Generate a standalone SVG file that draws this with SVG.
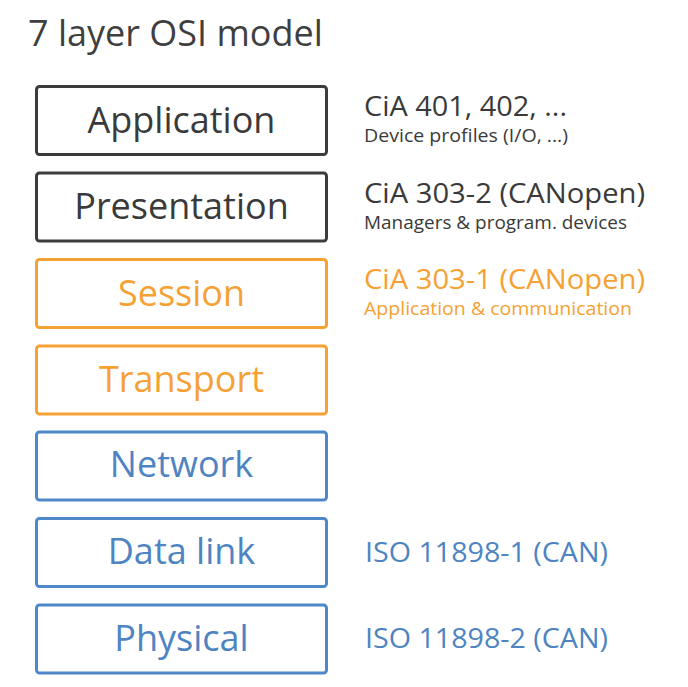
<svg xmlns="http://www.w3.org/2000/svg" width="688" height="687" viewBox="0 0 688 687">
<style>
text{font-family:"Open Sans","Noto Sans","Liberation Sans",sans-serif}
.box{fill:#fff;stroke-width:3}
.dk{stroke:#3c3c3c}.or{stroke:#f6a133}.bl{stroke:#4e88c8}
.lbl{font-size:36px;text-anchor:middle}
.tdk{fill:#3a3a3a}.tor{fill:#f6a133}.tbl{fill:#4e84c2}
.main{font-size:27.5px}.sub{font-size:19px}
</style>
<rect width="688" height="687" fill="#fff"/>
<text x="28" y="46" font-size="36" fill="#3f3f3f">7 layer OSI model</text>
<g id="application"><rect class="box dk" x="36.5" y="86.5" width="290" height="68" rx="3"/><text class="lbl tdk" x="181.5" y="133">Application</text></g>
<g id="presentation"><rect class="box dk" x="36.5" y="173" width="290" height="68" rx="3"/><text class="lbl tdk" x="181.5" y="219">Presentation</text></g>
<g id="session"><rect class="box or" x="36.5" y="259.5" width="290" height="68" rx="3"/><text class="lbl tor" x="181.5" y="306">Session</text></g>
<g id="transport"><rect class="box or" x="36.5" y="346" width="290" height="68" rx="3"/><text class="lbl tor" x="181.5" y="392">Transport</text></g>
<g id="network"><rect class="box bl" x="36.5" y="432" width="290" height="68" rx="3"/><text class="lbl tbl" x="181.5" y="477">Network</text></g>
<g id="datalink"><rect class="box bl" x="36.5" y="518.5" width="290" height="68" rx="3"/><text class="lbl tbl" x="181.5" y="564">Data link</text></g>
<g id="physical"><rect class="box bl" x="36.5" y="605" width="290" height="68" rx="3"/><text class="lbl tbl" x="181.5" y="651">Physical</text></g>
<g id="connectors"/>
<g id="annotations">
<text class="main tdk" x="364" y="116" textLength="203" lengthAdjust="spacingAndGlyphs">CiA 401, 402, ...</text>
<text class="sub tdk" x="364" y="142" textLength="204" lengthAdjust="spacingAndGlyphs">Device profiles (I/O, ...)</text>
<text class="main tdk" x="364" y="203" textLength="281" lengthAdjust="spacingAndGlyphs">CiA 303-2 (CANopen)</text>
<text class="sub tdk" x="364" y="229" textLength="263" lengthAdjust="spacingAndGlyphs">Managers &amp; program. devices</text>
<text class="main tor" x="364" y="289" textLength="281" lengthAdjust="spacingAndGlyphs">CiA 303-1 (CANopen)</text>
<text class="sub tor" x="364" y="315" textLength="268" lengthAdjust="spacingAndGlyphs">Application &amp; communication</text>
<text class="main tbl" x="365" y="562" textLength="243" lengthAdjust="spacingAndGlyphs">ISO 11898-1 (CAN)</text>
<text class="main tbl" x="365" y="648" textLength="243" lengthAdjust="spacingAndGlyphs">ISO 11898-2 (CAN)</text>
</g>
</svg>
